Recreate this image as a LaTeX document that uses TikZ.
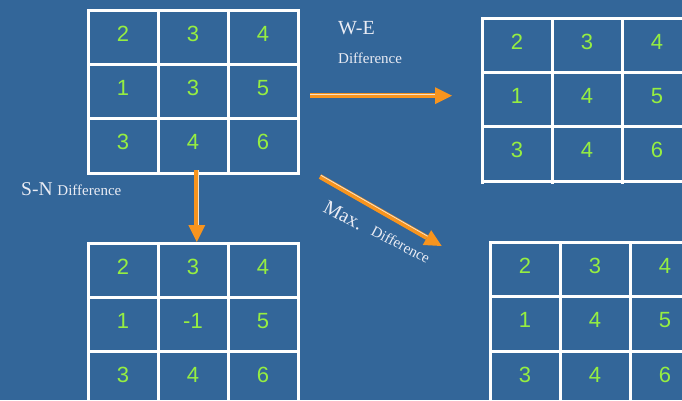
\documentclass[tikz,border=0pt]{standalone}
\usepackage{fontspec}
\setmainfont{Liberation Serif}
\newfontfamily\numfont{Liberation Sans}
\usetikzlibrary{arrows.meta,calc}
\definecolor{bgblue}{RGB}{51,102,153}
\definecolor{numgreen}{RGB}{150,238,65}
\definecolor{lbltext}{RGB}{234,236,244}
\definecolor{arrorange}{RGB}{247,148,30}
\definecolor{arrlight}{RGB}{245,225,200}
\newcommand\mynumgrid[4]{%
  \node[gridbox] (#1) at (#2,#3) {};
  \draw[gridline] (#2+70,#3) -- (#2+70,#3+163) (#2+140,#3) -- (#2+140,#3+163)
                  (#2,#3+54.3) -- (#2+210,#3+54.3) (#2,#3+108.6) -- (#2+210,#3+108.6);
  \foreach \val [count=\k from 0] in {#4} {%
    \pgfmathtruncatemacro\rr{\k/3}%
    \pgfmathtruncatemacro\cc{mod(\k,3)}%
    \node[num] (#1-\rr\cc) at (#2+35+70*\cc, #3+31+54.3*\rr) {\val};
  }%
}
\begin{document}
\begin{tikzpicture}[x=1pt,y=-1pt,
  gridbox/.style={draw=white, line width=3pt, minimum width=210pt, minimum height=163pt,
                  anchor=north west, inner sep=0pt, outer sep=0pt},
  gridline/.style={draw=white, line width=3pt},
  num/.style={text=numgreen, font=\numfont\fontsize{22}{22}\selectfont, anchor=base, inner sep=0pt},
  lbl/.style={text=lbltext, inner sep=0pt, anchor=base west},
  big/.style={font=\fontsize{20}{20}\selectfont},
  small/.style={font=\fontsize{15}{15}\selectfont},
  shaft/.style={draw=arrorange, line width=5pt, -{Triangle[length=17pt, width=17pt, line width=0pt]}},
  glint/.style={draw=arrlight, line width=0.8pt}
]
\useasboundingbox (0,0) rectangle (682,400);
\fill[bgblue] (0,0) rectangle (682,400);

% grids
\mynumgrid{g1}{88}{10}{2,3,4,1,3,5,3,4,6}
\mynumgrid{g2}{482}{18}{2,3,4,1,4,5,3,4,6}
\draw[gridline] (482,180) -- (482,184) (552,180) -- (552,184) (622,180) -- (622,184);
\mynumgrid{g3}{88}{243}{2,3,4,1,-1,5,3,4,6}
\mynumgrid{g4}{490}{242.5}{2,3,4,1,4,5,3,4,6}

% labels
\node[lbl, big] (we) at (338,34) {W-E};
\node[lbl, small] (wed) at (338,63.3) {Difference};
\node[lbl] (sn) at (21,195) {\fontsize{19.5}{20}\selectfont S-N \fontsize{15}{15}\selectfont Difference};
\node[lbl, big, rotate=-28] (mx) at (322,211) {Max.};
\node[lbl, small, rotate=-28] (mxd) at (370,234) {Difference};

% arrows
\coordinate (we-s) at (310,95.7);
\coordinate (we-t) at (452,95.7);
\coordinate (we-b) at ($(we-t)!17pt!(we-s)$);
\draw[shaft] (we-s) -- (we-t);
\draw[glint] ($(we-s)!1.5pt!90:(we-b)$) -- ($(we-b)!1.5pt!-90:(we-s)$);

\coordinate (sn-s) at (196.8,170);
\coordinate (sn-t) at (196.8,242);
\coordinate (sn-b) at ($(sn-t)!17pt!(sn-s)$);
\draw[shaft] (sn-s) -- (sn-t);
\draw[glint] ($(sn-s)!1.5pt!90:(sn-b)$) -- ($(sn-b)!1.5pt!-90:(sn-s)$);

\coordinate (mx-s) at (320,176.5);
\coordinate (mx-t) at (441.7,246);
\coordinate (mx-b) at ($(mx-t)!17pt!(mx-s)$);
\draw[shaft] (mx-s) -- (mx-t);
\draw[glint] ($(mx-s)!1.5pt!90:(mx-b)$) -- ($(mx-b)!1.5pt!-90:(mx-s)$);
\end{tikzpicture}
\end{document}
